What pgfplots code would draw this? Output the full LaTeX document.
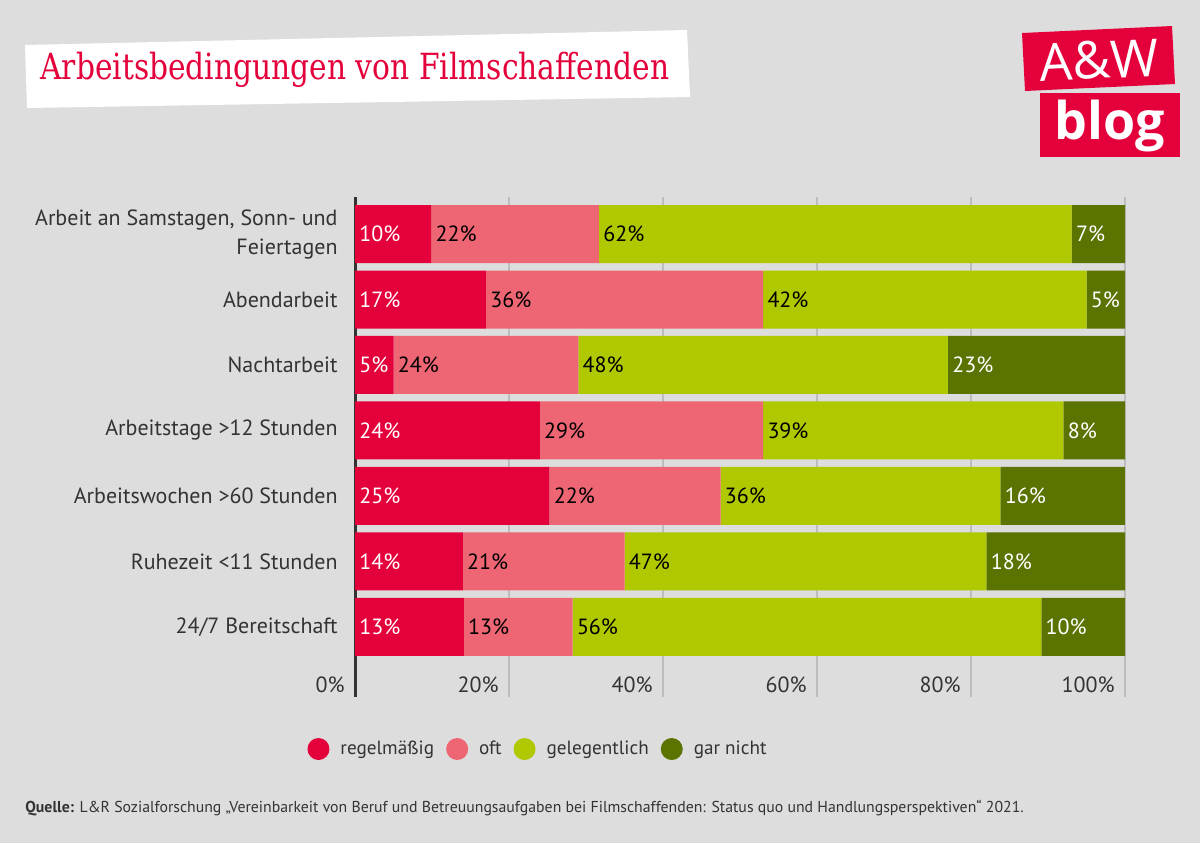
\documentclass[border=0pt]{standalone}
\usepackage{fontspec}
\setmainfont{PT Sans}
\newfontfamily\titlefont[FakeStretch=0.825]{DejaVu Serif}
\newfontfamily\logofont{Open Sans}
\usepackage{pgfplots}
\usepackage{pgfplotstable}
\pgfplotsset{compat=1.18}
\definecolor{bg}{HTML}{DDDDDD}
\definecolor{cA}{HTML}{E4003B}
\definecolor{cB}{HTML}{EE6673}
\definecolor{cC}{HTML}{AFC800}
\definecolor{cD}{HTML}{5B7300}
\definecolor{txt}{HTML}{333333}
\definecolor{gridc}{HTML}{BDBDBD}

% widths normalised to 100 %, labels = published values
\pgfplotstableread{
y a b c d la lb lc ld
0 14.13 14.13 60.87 10.87 13 13 56 10
1 14 21 47 18 14 21 47 18
2 25.25 22.22 36.36 16.16 25 22 36 16
3 24 29 39 8 24 29 39 8
4 5 24 48 23 5 24 48 23
5 17 36 42 5 17 36 42 5
6 9.90 21.78 61.39 6.93 10 22 62 7
}\datatable

\pgfplotsset{
  dotlegend/.style={legend image code/.code={\fill[##1,draw=none] (0pt,0pt) circle (5.5pt); \path (9pt,0pt);}},
  common/.style={at={(177.5pt,-98.5pt)}, anchor=north west,
    width=385pt, height=250pt, scale only axis,
    xmin=0, xmax=100, ymin=-1.07, ymax=6.565},
  lab/.style={draw=none, mark=none, nodes near coords={\pgfplotspointmeta\%},
    every node near coord/.append style={anchor=west, inner sep=0pt, xshift=2pt, text=#1, font=\fontsize{11}{13}\selectfont}},
}

\begin{document}
\begin{tikzpicture}[x=0.5pt,y=-0.5pt]
\path[use as bounding box, fill=bg] (0,0) rectangle (1200,843);
% title
\fill[white] (25,45) -- (687,30) -- (690,97) -- (27,108) -- cycle;
\node[anchor=base west, inner sep=0pt, text=cA] at (40,79) {\titlefont\fontsize{18}{20}\selectfont Arbeitsbedingungen von Filmschaffenden};
% logo
\fill[cA] (1022,33) -- (1172,26) -- (1175,84) -- (1025,91) -- cycle;
\node[text=white, rotate=2.7, inner sep=0pt] at (1099,60) {\logofont\fontsize{26}{28}\selectfont A\&W};
\fill[cA] (1040,93) -- (1180,93) -- (1180,157) -- (1040,157) -- cycle;
\node[text=white, inner sep=0pt] at (1110,126) {\logofont\bfseries\fontsize{26}{28}\selectfont blog};
% source
\node[anchor=west, inner sep=0pt, text=txt] at (25,808) {\fontsize{7.9}{10}\selectfont\textbf{Quelle:} L\&R Sozialforschung „Vereinbarkeit von Beruf und Betreuungsaufgaben bei Filmschaffenden: Status quo und Handlungsperspektiven“ 2021.};

\begin{axis}[
  common,
  xbar stacked, bar width=29pt,
  xtick={0,20,40,60,80,100},
  xticklabels={0\%,20\%,40\%,60\%,80\%,100\%},
  ytick={0,1,2,3,4,5,6},
  yticklabels={24/7 Bereitschaft, Ruhezeit <11 Stunden, Arbeitswochen >60 Stunden, Arbeitstage >12 Stunden, Nachtarbeit, Abendarbeit, {Arbeit an Samstagen, Sonn- und\\Feiertagen}},
  xmajorgrids, grid style={gridc, line width=1pt},
  major tick length=0pt,
  axis x line*=bottom, axis y line*=left,
  x axis line style={draw=none},
  y axis line style={txt, line width=1.5pt},
  xticklabel style={anchor=east, inner sep=0pt, xshift=-5pt, yshift=6pt, text=txt, font=\fontsize{11}{13}\selectfont},
  yticklabel style={anchor=east, inner sep=0pt, xshift=-8.5pt, align=right, text=txt, font=\fontsize{11}{14.5}\selectfont},
  legend style={at={(0.239,-0.104)}, anchor=center, legend columns=4, draw=none, fill=none, text=txt, font=\fontsize{9.6}{12}\selectfont, /tikz/every even column/.append style={column sep=4pt}},
]
\addplot[fill=cA, draw=none, dotlegend] table[x=a, y=y] \datatable;
\addplot[fill=cB, draw=none, dotlegend] table[x=b, y=y] \datatable;
\addplot[fill=cC, draw=none, dotlegend] table[x=c, y=y] \datatable;
\addplot[fill=cD, draw=none, dotlegend] table[x=d, y=y] \datatable;
\legend{regelmäßig,oft,gelegentlich,gar nicht}
\end{axis}

\begin{axis}[common, hide axis, point meta=explicit symbolic, clip=false]
\addplot[lab=white] table[x expr=0, y=y, meta=la] \datatable;
\addplot[lab=black] table[x=a, y=y, meta=lb] \datatable;
\addplot[lab=black] table[x expr=\thisrow{a}+\thisrow{b}, y=y, meta=lc] \datatable;
\addplot[lab=white] table[x expr=\thisrow{a}+\thisrow{b}+\thisrow{c}, y=y, meta=ld] \datatable;
\end{axis}
\end{tikzpicture}
\end{document}
